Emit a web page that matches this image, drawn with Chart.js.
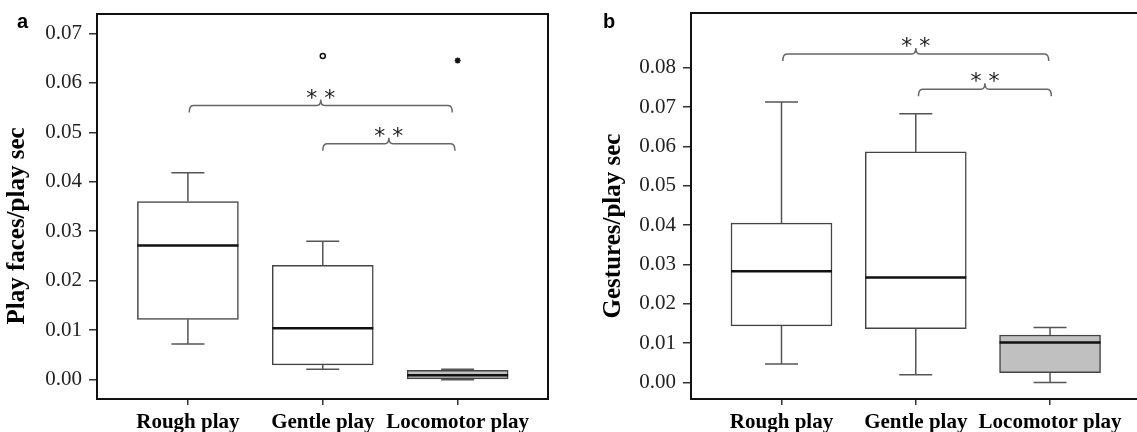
<!DOCTYPE html>
<html>
<head>
<meta charset="utf-8">
<script src="https://cdn.jsdelivr.net/npm/chart.js@4"></script>
<style>
    html, body { margin: 0; padding: 0; background: #fff; overflow: hidden; }
    body { width: 1137px; height: 432px; position: relative; }
    .panel { position: absolute; top: 0; }
</style>
</head>
<body>
<div class="panel" style="left:0px"><canvas id="facesChart" width="570" height="432"></canvas></div>
<div class="panel" style="left:570px"><canvas id="gesturesChart" width="590" height="432"></canvas></div>
<script>
const categories = ["Rough play", "Gentle play", "Locomotor play"];
const boxColors = ["#ffffff", "#ffffff", "#c0c0c0"];

// panel a - play faces
const facesLow = [0.0072, 0.0021, 0.0];
const facesQ1 = [0.0122, 0.0030, 0.0];
const facesMedian = [0.0271, 0.0104, 0.0009];
const facesQ3 = [0.0360, 0.0231, 0.0019];
const facesHigh = [0.0418, 0.0280, 0.0021];
const facesOutlierX = [2, 3];
const facesOutlierY = [0.0654, 0.0645];
const facesOutlierStyle = ["circle", "star"];
const facesTicks = [0, 0.01, 0.02, 0.03, 0.04, 0.05, 0.06, 0.07];
const facesBrackets = [[1.01, 2.96, 0.0554], [2.0, 2.98, 0.0477]];

// panel b - gestures
const gesturesLow = [0.0047, 0.0020, 0.0];
const gesturesQ1 = [0.0144, 0.0137, 0.0025];
const gesturesMedian = [0.0283, 0.0267, 0.0102];
const gesturesQ3 = [0.0405, 0.0586, 0.0121];
const gesturesHigh = [0.0713, 0.0683, 0.0140];
const gesturesTicks = [0, 0.01, 0.02, 0.03, 0.04, 0.05, 0.06, 0.07, 0.08];
const gesturesBrackets = [[1.01, 2.99, 0.0835], [2.02, 3.01, 0.0745]];

function makeBoxChart(canvasId, cfg) {
    const boxPlugin = {
        id: "boxExtras",
        afterDatasetsDraw(chart) {
            const ctx = chart.ctx;
            const xs = chart.scales.x;
            const ys = chart.scales.y;
            const half = 50.5;
            const cap = 16.5;
            ctx.save();
            for (let i = 0; i < categories.length; i++) {
                const cx = xs.getPixelForValue(i + 1);
                // whiskers
                ctx.strokeStyle = "#555";
                ctx.lineWidth = 1.5;
                ctx.beginPath();
                ctx.moveTo(cx, ys.getPixelForValue(cfg.q3[i]));
                ctx.lineTo(cx, ys.getPixelForValue(cfg.high[i]));
                ctx.moveTo(cx - cap, ys.getPixelForValue(cfg.high[i]));
                ctx.lineTo(cx + cap, ys.getPixelForValue(cfg.high[i]));
                ctx.moveTo(cx, ys.getPixelForValue(cfg.q1[i]));
                ctx.lineTo(cx, ys.getPixelForValue(cfg.low[i]));
                ctx.moveTo(cx - cap, ys.getPixelForValue(cfg.low[i]));
                ctx.lineTo(cx + cap, ys.getPixelForValue(cfg.low[i]));
                ctx.stroke();
                // median
                ctx.strokeStyle = "#111";
                ctx.lineWidth = 2.5;
                ctx.beginPath();
                ctx.moveTo(cx - half, ys.getPixelForValue(cfg.median[i]));
                ctx.lineTo(cx + half, ys.getPixelForValue(cfg.median[i]));
                ctx.stroke();
            }
            // significance braces
            cfg.brackets.forEach(function (b) {
                const x1 = xs.getPixelForValue(b[0]);
                const x2 = xs.getPixelForValue(b[1]);
                const y = ys.getPixelForValue(b[2]);
                const mid = (x1 + x2) / 2;
                const r = 4;
                ctx.strokeStyle = "#666";
                ctx.lineWidth = 1.5;
                ctx.beginPath();
                ctx.moveTo(x1, y + 7);
                ctx.quadraticCurveTo(x1, y, x1 + r, y);
                ctx.lineTo(mid - r, y);
                ctx.quadraticCurveTo(mid, y, mid, y - 6);
                ctx.quadraticCurveTo(mid, y, mid + r, y);
                ctx.lineTo(x2 - r, y);
                ctx.quadraticCurveTo(x2, y, x2, y + 7);
                ctx.stroke();
                ctx.fillStyle = "#222";
                ctx.font = "22px 'DejaVu Sans'";
                ctx.textAlign = "center";
                ctx.textBaseline = "alphabetic";
                ctx.fillText("*", mid - 9, y - 1);
                ctx.fillText("*", mid + 9, y - 1);
            });
            ctx.restore();
        },
        afterDraw(chart) {
            const ctx = chart.ctx;
            const area = chart.chartArea;
            ctx.save();
            // frame
            ctx.strokeStyle = "#111";
            ctx.lineWidth = 2;
            ctx.strokeRect(area.left, area.top, area.right - area.left, area.bottom - area.top);
            // panel letter
            ctx.fillStyle = "#000";
            ctx.font = "bold 20px 'Liberation Sans'";
            ctx.textAlign = "left";
            ctx.textBaseline = "alphabetic";
            ctx.fillText(cfg.letter, cfg.letterX, 28);
            // y title
            ctx.translate(cfg.titleX, 226);
            ctx.rotate(-Math.PI / 2);
            ctx.font = "bold 25px 'Liberation Serif'";
            ctx.textAlign = "center";
            ctx.textBaseline = "middle";
            ctx.fillText(cfg.title, 0, 0);
            ctx.restore();
        }
    };

    const datasets = [{
        type: "bar",
        data: categories.map((c, i) => ({ x: i + 1, y: [cfg.q1[i], cfg.q3[i]] })),
        backgroundColor: boxColors,
        borderColor: "#444",
        borderWidth: 1.5,
        borderSkipped: false,
        barThickness: 101
    }];
    if (cfg.outX) {
        datasets.push({
            type: "scatter",
            data: cfg.outX.map((x, i) => ({ x: x, y: cfg.outY[i] })),
            pointStyle: cfg.outStyle,
            pointRadius: [2.5, 3],
            backgroundColor: ["#fff", "#111"],
            borderColor: "#111",
            borderWidth: 1.5
        });
    }

    return new Chart(document.getElementById(canvasId).getContext("2d"), {
        type: "bar",
        data: { datasets: datasets },
        options: {
            responsive: false,
            animation: false,
            layout: { padding: { left: 0, top: cfg.top, right: cfg.right, bottom: 0 } },
            plugins: { legend: { display: false }, tooltip: { enabled: false } },
            scales: {
                x: {
                    type: "linear",
                    min: 0.326,
                    max: 3.67,
                    offset: false,
                    afterBuildTicks: function (scale) {
                        scale.ticks = categories.map((c, i) => ({ value: i + 1 }));
                    },
                    afterFit: function (scale) {
                        scale.height = 33;
                        scale.paddingLeft = 0;
                        scale.paddingRight = 0;
                    },
                    grid: { offset: false, drawOnChartArea: false, drawTicks: true, tickLength: 6, color: "#333", lineWidth: 1.5 },
                    border: { display: false },
                    ticks: {
                        padding: 5,
                        autoSkip: false,
                        maxRotation: 0,
                        color: "#000",
                        font: { family: "'Liberation Serif'", size: 21, weight: "bold" },
                        callback: function (v) { return categories[Math.round(v) - 1]; }
                    }
                },
                y: {
                    min: cfg.yMin,
                    max: cfg.yMax,
                    afterBuildTicks: function (scale) {
                        scale.ticks = cfg.ticks.map(v => ({ value: v }));
                    },
                    afterFit: function (scale) {
                        scale.width = cfg.axisWidth;
                        scale.paddingTop = 0;
                        scale.paddingBottom = 0;
                    },
                    grid: { drawOnChartArea: false, drawTicks: true, tickLength: 8, color: "#333", lineWidth: 1.5 },
                    border: { display: false },
                    ticks: {
                        padding: 7,
                        color: "#222",
                        font: { family: "'Liberation Serif'", size: 21 },
                        callback: function (v) { return v.toFixed(2); }
                    }
                }
            }
        },
        plugins: [boxPlugin]
    });
}

makeBoxChart("facesChart", {
    low: facesLow, q1: facesQ1, median: facesMedian, q3: facesQ3, high: facesHigh,
    outX: facesOutlierX, outY: facesOutlierY, outStyle: facesOutlierStyle,
    ticks: facesTicks, brackets: facesBrackets,
    yMin: -0.0039, yMax: 0.0739, axisWidth: 97, top: 14, right: 22,
    letter: "a", letterX: 17, titleX: 18, title: "Play faces/play sec"
});

makeBoxChart("gesturesChart", {
    low: gesturesLow, q1: gesturesQ1, median: gesturesMedian, q3: gesturesQ3, high: gesturesHigh,
    ticks: gesturesTicks, brackets: gesturesBrackets,
    yMin: -0.00417, yMax: 0.0939, axisWidth: 121, top: 13, right: 20,
    letter: "b", letterX: 33, titleX: 44, title: "Gestures/play sec"
});
</script>
</body>
</html>
